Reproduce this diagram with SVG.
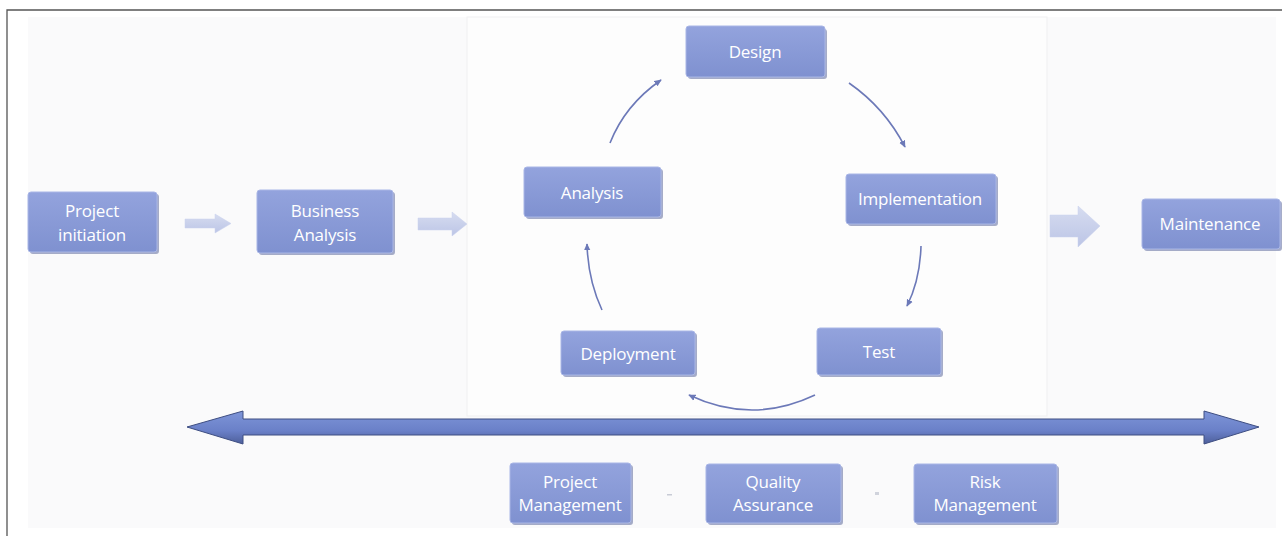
<svg xmlns="http://www.w3.org/2000/svg" width="1282" height="536" viewBox="0 0 1282 536">
<defs>
<linearGradient id="nodeGrad" x1="0" y1="0" x2="0" y2="1">
<stop offset="0" stop-color="#93a3dd"/>
<stop offset="1" stop-color="#7f91d0"/>
</linearGradient>
<linearGradient id="bigGrad" x1="0" y1="0" x2="0" y2="1">
<stop offset="0" stop-color="#7e95d8"/>
<stop offset="0.6" stop-color="#6a80c8"/>
<stop offset="1" stop-color="#4d5f9a"/>
</linearGradient>
<linearGradient id="flowGrad" x1="0" y1="0" x2="0" y2="1">
<stop offset="0" stop-color="#d6dcf0"/>
<stop offset="1" stop-color="#bcc5e6"/>
</linearGradient>
<marker id="ah" viewBox="0 0 10 10" refX="8" refY="5" markerWidth="5" markerHeight="5" orient="auto-start-reverse">
<path d="M0,1 L9,5 L0,9 z" fill="#6c79b8"/>
</marker>
</defs>
<style>
.node rect.base{fill:url(#nodeGrad);stroke:#a9b6e6;stroke-width:1}
.node rect.shadow{fill:#5d6a9c;opacity:0.55}
.node text{font-family:"Open Sans","Liberation Sans",sans-serif;font-size:17px;fill:#ffffff;text-anchor:middle;letter-spacing:-0.2px}
.cyc{fill:none;stroke:#6c79b8;stroke-width:1.6;marker-end:url(#ah)}
.flow{fill:url(#flowGrad);stroke:#c9d0ec;stroke-width:0.5}
</style>

<!-- background -->
<rect x="0" y="0" width="1282" height="536" fill="#ffffff"/>
<rect x="28" y="17" width="1248" height="511" fill="#fafafb"/>
<rect x="467" y="17" width="580" height="399" fill="#fdfdfd" stroke="#efeff1" stroke-width="1"/>
<path d="M7,536 L7,10 L1282,10" fill="none" stroke="#555555" stroke-width="1.3"/>

<!-- connectors -->
<g id="connectors">
<path class="flow" d="M185,219 L215,219 L215,214 L231,223.5 L215,233 L215,228 L185,228 z"/>
<path class="flow" d="M418,218 L452,218 L452,212 L467,224 L452,236 L452,230 L418,230 z"/>
<path class="flow" d="M1050,215 L1078,215 L1078,206 L1100,226 L1078,247 L1078,237 L1050,237 z"/>
<path class="cyc" d="M610,143 Q625,105 661,80"/>
<path class="cyc" d="M849,83 Q885,108 905,147"/>
<path class="cyc" d="M921,246 Q920,280 907,306"/>
<path class="cyc" d="M815,395 Q752,425 689,395"/>
<path class="cyc" d="M602,310 Q588,280 587,244"/>
<path id="timeline" d="M187,427 L243,411 L243,419 L1204,419 L1204,411 L1259,427 L1204,444 L1204,435 L243,435 L243,444 z" fill="url(#bigGrad)" stroke="#3e4e82" stroke-width="1"/>
</g>

<!-- nodes -->
<g id="project-initiation" class="node">
<rect class="shadow" x="30" y="194" width="129" height="60" rx="3"/>
<rect class="base" x="28" y="192" width="129" height="60" rx="3"/>
<text x="92" y="217">Project</text>
<text x="92" y="241">initiation</text>
</g>
<g id="business-analysis" class="node">
<rect class="shadow" x="259" y="192" width="136" height="63" rx="3"/>
<rect class="base" x="257" y="190" width="136" height="63" rx="3"/>
<text x="325" y="217">Business</text>
<text x="325" y="241">Analysis</text>
</g>
<g id="design" class="node">
<rect class="shadow" x="688" y="29" width="139" height="50" rx="3"/>
<rect class="base" x="686" y="26" width="139" height="51" rx="3"/>
<text x="755" y="58">Design</text>
</g>
<g id="analysis" class="node">
<rect class="shadow" x="526" y="169" width="137" height="50" rx="3"/>
<rect class="base" x="524" y="167" width="137" height="50" rx="3"/>
<text x="592" y="199">Analysis</text>
</g>
<g id="implementation" class="node">
<rect class="shadow" x="848" y="176" width="150" height="50" rx="3"/>
<rect class="base" x="846" y="174" width="150" height="50" rx="3"/>
<text x="920" y="205">Implementation</text>
</g>
<g id="test" class="node">
<rect class="shadow" x="819" y="330" width="124" height="47" rx="3"/>
<rect class="base" x="817" y="328" width="124" height="47" rx="3"/>
<text x="879" y="358">Test</text>
</g>
<g id="deployment" class="node">
<rect class="shadow" x="563" y="333" width="134" height="44" rx="3"/>
<rect class="base" x="561" y="331" width="134" height="44" rx="3"/>
<text x="628" y="360">Deployment</text>
</g>
<g id="maintenance" class="node">
<rect class="shadow" x="1144" y="201" width="138" height="50" rx="3"/>
<rect class="base" x="1142" y="199" width="138" height="50" rx="3"/>
<text x="1210" y="230">Maintenance</text>
</g>
<g id="project-management" class="node">
<rect class="shadow" x="512" y="465" width="121" height="60" rx="3"/>
<rect class="base" x="510" y="463" width="121" height="60" rx="3"/>
<text x="570" y="488">Project</text>
<text x="570" y="511">Management</text>
</g>
<g id="quality-assurance" class="node">
<rect class="shadow" x="708" y="466" width="135" height="59" rx="3"/>
<rect class="base" x="706" y="464" width="135" height="59" rx="3"/>
<text x="773" y="488">Quality</text>
<text x="773" y="511">Assurance</text>
</g>
<g id="risk-management" class="node">
<rect class="shadow" x="916" y="466" width="143" height="59" rx="3"/>
<rect class="base" x="914" y="464" width="143" height="59" rx="3"/>
<text x="985" y="488">Risk</text>
<text x="985" y="511">Management</text>
</g>

<!-- faint marks -->
<rect x="667" y="494" width="5" height="1.5" fill="#c8cbd6"/>
<rect x="875" y="492" width="4" height="3" fill="#d0d3dc"/>
</svg>
